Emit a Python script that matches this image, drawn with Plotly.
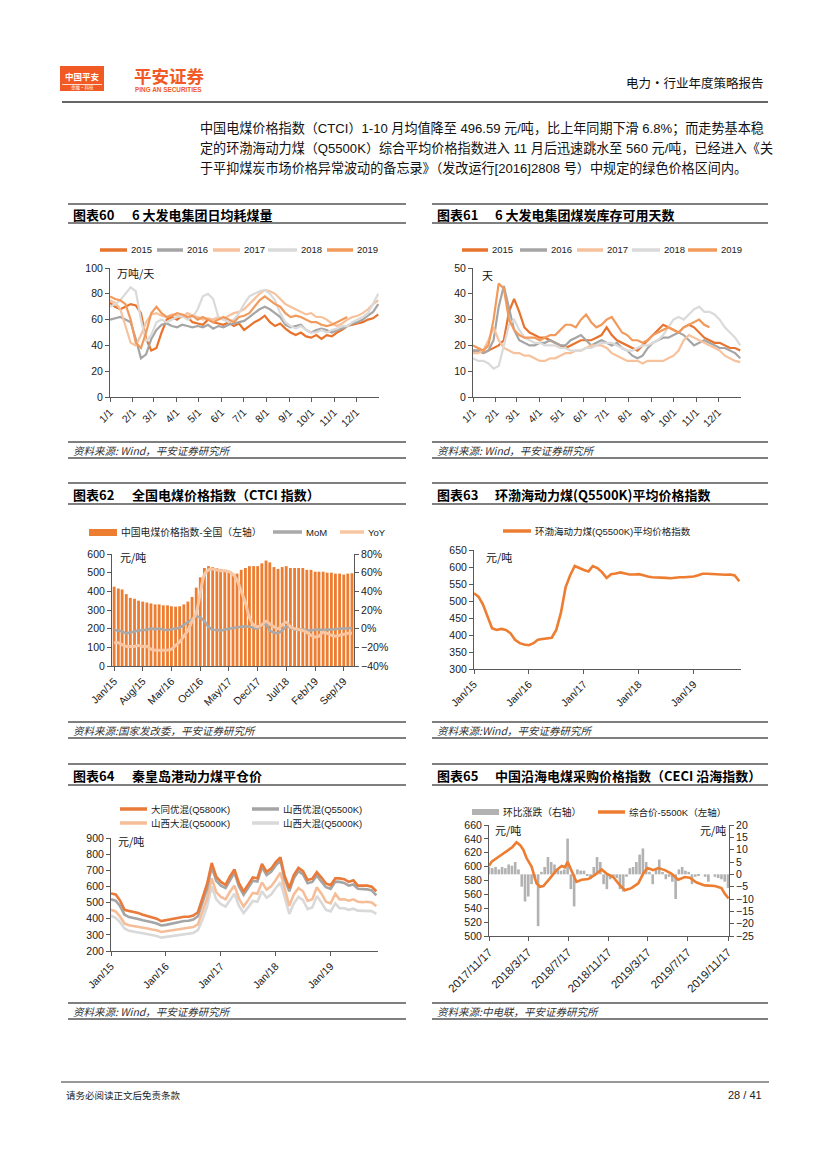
import plotly.graph_objects as go
import pandas as pd

# ======================= DATA =======================
MONTH_LABELS = ["1/1", "2/1", "3/1", "4/1", "5/1", "6/1", "7/1", "8/1", "9/1", "10/1", "11/1", "12/1"]
MONTH_START_DAYS = [0, 31, 59, 90, 120, 151, 181, 212, 243, 273, 304, 334]
WEEK_DAYS = list(range(0, 365, 7))  # day-of-year of weekly readings
YEARS = ["2015", "2016", "2017", "2018", "2019"]

# Chart 60: daily coal consumption of 6 power groups (10k t / day)
COAL_USE_2015 = [73, 70, 68, 70, 72, 71, 65, 45, 36, 38, 50, 60, 62, 60, 63, 62, 58, 57, 56, 60, 58, 57, 56, 58, 55, 57,
                 52, 55, 58, 60, 63, 58, 55, 57, 53, 50, 48, 50, 47, 46, 48, 45, 48, 47, 50, 52, 55, 56, 57, 58, 60, 61, 64]
COAL_USE_2016 = [60, 61, 62, 60, 58, 45, 30, 33, 45, 52, 56, 57, 55, 54, 56, 55, 54, 55, 54, 56, 53, 55, 54, 56, 57, 58,
                 59, 62, 65, 68, 70, 68, 65, 62, 56, 54, 55, 56, 52, 50, 52, 53, 52, 50, 52, 53, 55, 57, 58, 60, 63, 66, 72]
COAL_USE_2017 = [75, 73, 68, 55, 42, 40, 48, 58, 64, 65, 63, 62, 64, 63, 62, 65, 63, 62, 60, 61, 60, 62, 60, 63, 65, 66,
                 68, 72, 76, 80, 83, 82, 80, 76, 72, 70, 68, 66, 64, 65, 62, 62, 60, 57, 55, 57, 60, 62, 63, 65, 68, 72, 75]
COAL_USE_2018 = [70, 72, 75, 80, 85, 82, 60, 43, 48, 58, 60, 58, 60, 62, 63, 60, 62, 68, 78, 80, 76, 62, 60, 58, 60, 65,
                 72, 78, 80, 82, 83, 80, 75, 65, 58, 55, 53, 55, 52, 50, 50, 52, 50, 52, 53, 55, 55, 58, 60, 62, 65, 72, 80]
COAL_USE_2019 = [78, 76, 75, 72, 60, 42, 38, 50, 65, 70, 65, 62, 63, 65, 64, 62, 63, 60, 62, 60, 58, 60, 62, 60, 58, 62,
                 63, 65, 70, 75, 78, 75, 72, 70, 65, 62, 63, 62, 60, 58, 58, 56, 55, 56, 58, 60, 62]

# Chart 61: coal stock available days
STOCK_2015 = [18, 18, 17, 18, 19, 20, 22, 33, 38, 33, 27, 25, 24, 23, 23, 22, 21, 20, 19, 20, 21, 22, 22, 22, 23, 24,
              27, 24, 22, 21, 20, 19, 18, 20, 22, 24, 26, 28, 27, 26, 25, 27, 28, 27, 25, 23, 22, 21, 21, 20, 19, 19, 18]
STOCK_2016 = [18, 18, 17, 18, 22, 35, 43, 35, 26, 22, 21, 20, 20, 21, 21, 22, 21, 20, 20, 22, 23, 24, 22, 20, 21, 22,
              21, 20, 21, 19, 18, 16, 15, 16, 19, 21, 22, 23, 23, 24, 25, 24, 22, 20, 21, 22, 21, 20, 19, 19, 18, 17, 15]
STOCK_2017 = [17, 17, 18, 22, 27, 22, 19, 18, 17, 17, 16, 16, 15, 14, 14, 15, 15, 16, 17, 17, 18, 18, 19, 20, 20, 20,
              19, 17, 16, 15, 14, 14, 14, 13, 14, 14, 14, 14, 15, 16, 18, 22, 24, 23, 22, 21, 20, 19, 18, 16, 15, 14, 13.5]
STOCK_2018 = [15, 14, 14, 13, 11, 12, 20, 28, 30, 26, 23, 22, 21, 21, 20, 20, 20, 19, 19, 18, 18, 18, 19, 19, 20, 21,
              21, 21, 20, 19, 18, 18, 19, 20, 20, 21, 22, 24, 27, 30, 31, 30, 32, 34, 35, 33, 33, 32, 30, 27, 25, 23, 20]
STOCK_2019 = [20, 19, 18, 20, 30, 44, 42, 30, 26, 24, 23, 23, 23, 22, 23, 24, 24, 26, 28, 28, 27, 30, 32, 29, 27, 28,
              30, 31, 28, 25, 24, 22, 22, 21, 22, 24, 25, 26, 27, 26, 25, 27, 28, 29, 30, 28, 27]

# Monthly axis Jan/2015 - Nov/2019
MONTHS = pd.date_range("2015-01-01", periods=59, freq="MS")

# Chart 62: CTCI index (yuan/t), MoM %, YoY %
CTCI = [425, 415, 410, 385, 365, 360, 350, 345, 340, 335, 330, 330,
        325, 325, 320, 318, 320, 330, 345, 370, 420, 475, 525, 535,
        530, 525, 520, 510, 505, 495, 495, 515, 525, 535, 535, 535,
        550, 565, 555, 530, 520, 530, 535, 525, 525, 525, 525, 515,
        515, 505, 505, 505, 500, 500, 495, 495, 490, 495, 497]
CTCI_MOM = [-1.5, -2, -3, -5, -4, -3, -2, -1.5, -1, 0, -0.5, 0,
            -1, -1.5, -0.5, 0, 1, 4, 7, 10, 13, 12, 8, 2,
            -1, -1.5, -2, -1, 0, 0.5, 1.5, 2, 2.5, 2, 1, 0,
            4, 5, -2, -4, -5, -2, 2, 1, -1, -0.5, -1, -1.5,
            -2, -1, -1, -1.5, -1, -1, -0.5, 0, 0, 0.5, 0.5]
CTCI_YOY = [-15, -15, -17, -19, -19, -19, -18, -19, -19, -22, -23, -23,
            -23, -23, -22, -18, -14, -8, -2, 8, 17, 38, 58, 63,
            64, 63, 62, 62, 61, 58, 52, 40, 28, 12, 4, 2,
            4, 8, 5, 2, 0, 4, 7, 2, 0, -1, -2, -4,
            -7, -9, -8, -4, -5, -7, -8, -7, -6, -5, -5]
CTCI_TICKS = ["2015-01-01", "2015-08-01", "2016-03-01", "2016-10-01", "2017-05-01",
              "2017-12-01", "2018-07-01", "2019-02-01", "2019-09-01"]

# Chart 63: Bohai-Rim thermal coal (Q5500K) price index
BOHAI = [523, 512, 490, 455, 420, 415, 418, 415, 405, 386, 376, 372,
         370, 376, 386, 388, 389, 392, 415, 465, 540, 575, 603, 596,
         591, 587, 603, 597, 585, 568, 579, 581, 584, 581, 578, 578,
         579, 576, 572, 570, 570, 570, 568, 567, 569, 570, 570, 570,
         572, 576, 580, 580, 579, 578, 577, 577, 578, 575, 558]
YEAR_TICKS = ["2015-01-01", "2016-01-01", "2017-01-01", "2018-01-01", "2019-01-01"]

# Chart 64: Qinhuangdao FOB prices
QHD_NAMES = ["大同优混(Q5800K)", "山西优混(Q5500K)", "山西大混(Q5000K)", "山西大混(Q5000K)"]
DATONG = [556, 550, 515, 455, 448, 443, 435, 425, 418, 410, 400, 385,
          390, 395, 402, 408, 412, 412, 420, 440, 530, 615, 745, 660,
          628, 610, 660, 705, 620, 568, 610, 655, 650, 740, 690, 710,
          750, 780, 665, 590, 670, 715, 695, 640, 648, 688, 655, 618,
          607, 650, 650, 645, 628, 638, 605, 605, 605, 598, 570]
SX_YOU = [520, 512, 480, 425, 410, 405, 398, 390, 385, 378, 370, 358,
          362, 368, 375, 382, 386, 387, 395, 415, 500, 585, 720, 635,
          605, 590, 635, 685, 600, 548, 590, 635, 630, 720, 670, 690,
          730, 760, 645, 570, 650, 695, 675, 620, 628, 668, 630, 595,
          585, 630, 628, 622, 605, 612, 585, 583, 582, 575, 545]
SX_DA = [455, 445, 415, 370, 360, 356, 350, 345, 340, 333, 328, 318,
         322, 327, 333, 338, 342, 342, 348, 365, 440, 525, 650, 565,
         535, 520, 565, 605, 525, 475, 515, 560, 555, 625, 580, 600,
         640, 685, 590, 480, 550, 590, 570, 510, 520, 595, 555, 505,
         495, 555, 520, 520, 512, 520, 505, 502, 505, 500, 478]
SX_DA2 = [418, 405, 380, 340, 325, 322, 315, 310, 305, 300, 293, 283,
          287, 292, 298, 303, 305, 307, 312, 330, 395, 475, 600, 520,
          490, 475, 515, 555, 480, 435, 470, 510, 505, 570, 530, 550,
          590, 625, 535, 430, 495, 535, 515, 460, 470, 540, 500, 455,
          445, 495, 465, 465, 455, 462, 450, 448, 450, 447, 430]

# Chart 65: CECI coastal index
CECI_DATES = ["2017-11-17", "2017-11-25", "2017-12-10", "2017-12-26", "2018-01-15", "2018-01-27", "2018-02-09",
              "2018-02-20", "2018-03-02", "2018-03-12", "2018-03-27", "2018-04-11", "2018-04-22", "2018-05-02",
              "2018-05-22", "2018-06-11", "2018-06-27", "2018-07-07", "2018-07-15", "2018-07-27", "2018-08-11",
              "2018-08-27", "2018-09-16", "2018-10-06", "2018-10-27", "2018-11-11", "2018-12-01", "2018-12-22",
              "2019-01-06", "2019-01-26", "2019-02-16", "2019-03-03", "2019-03-16", "2019-04-02", "2019-04-18",
              "2019-05-08", "2019-05-28", "2019-06-18", "2019-07-08", "2019-07-23", "2019-08-13", "2019-09-07",
              "2019-10-08", "2019-10-28", "2019-11-07", "2019-11-19"]
CECI_PRICE = [601, 607, 612, 617, 624, 628, 635, 631, 624, 612, 600, 576, 571, 572, 583, 595, 601, 599, 607, 595,
              578, 581, 582, 588, 596, 590, 585, 573, 566, 569, 576, 590, 598, 595, 598, 595, 590, 581, 585, 584,
              577, 573, 572, 569, 561, 554]
CECI_BAR_DATES = pd.date_range("2017-11-17", periods=74, freq="10D")
CECI_CHG = [3, 2.5, 3, 2, 3, 2.5, 4, 3.5, 5, 2, -5, -11, -9, -4, -2, -21, 1, 3, 7, 5,
            4, 2, 1.5, 2, 14.5, -6, -13, 2, 1.5, 1.5, -0.5, -2, 3, 7, 5, -4, -6, -2, -1, -1.5,
            -6, -7, -1, 2.5, 3, 5, 8, 10.5, 5, 1, -4, 2, 6, 1, -2, -1, -3, -10, 2, 3,
            1.5, 1, -4, -1, -0.5, 0, -1, -3, 0, -1, -1.5, -2, -3, -5.5]
CECI_TICKS = ["2017-11-17", "2018-03-17", "2018-07-17", "2018-11-17", "2019-03-17", "2019-07-17", "2019-11-17"]
CECI_TICKTEXT = ["2017/11/17", "2018/3/17", "2018/7/17", "2018/11/17", "2019/3/17", "2019/7/17", "2019/11/17"]

# ======================= STYLE / HELPERS =======================
PAGE_W, PAGE_H = 827, 1169
BODY_MARGIN = 8                      # the html page puts the figure 8px in from the top-left
W, H = PAGE_W - 2 * BODY_MARGIN, PAGE_H - 2 * BODY_MARGIN
LAT = "Liberation Sans, Arial, Noto Sans CJK SC, sans-serif"
CJK = "Noto Sans CJK SC, Liberation Sans, sans-serif"
ORANGE = "#ED7D31"
YEAR_COLORS = ["#E8732D", "#A5A5A5", "#F7C19B", "#DADADA", "#F29A5B"]


def X(p):
    return (p - BODY_MARGIN) / W


def Y(p):
    return 1 - (p - BODY_MARGIN) / H


shapes, annos = [], []


def hline(x0, x1, y, color="#444444", w=1.2):
    shapes.append(dict(type="line", xref="paper", yref="paper", x0=X(x0), x1=X(x1), y0=Y(y), y1=Y(y),
                       line=dict(color=color, width=w)))


def rect(x0, x1, y0, y1, color):
    shapes.append(dict(type="rect", xref="paper", yref="paper", x0=X(x0), x1=X(x1), y0=Y(y1), y1=Y(y0),
                       fillcolor=color, line=dict(width=0)))


def text(x, y, s, size=10, color="#000000", family=LAT, anchor="left"):
    annos.append(dict(xref="paper", yref="paper", x=X(x), y=Y(y), text=s, showarrow=False, xanchor=anchor,
                      yanchor="middle", font=dict(size=size, color=color, family=family)))


def leg_line(x0, x1, y, color, label, w=3.5):
    hline(x0, x1, y, color, w)
    text(x1 + 2, y, label, 9.5, "#222222", LAT)


AX = dict(showline=True, linecolor="#595959", linewidth=1, ticks="outside", ticklen=4, tickwidth=1,
          tickcolor="#595959", showgrid=False, zeroline=False, fixedrange=True, automargin=False,
          tickfont=dict(family=LAT, size=10.5, color="#1a1a1a"))


def xdom(a, b):
    return [X(a), X(b)]


def ydom(top, bottom):
    return [Y(bottom), Y(top)]


fig = go.Figure()

# ---------- Chart 60 ----------
for name, vals, col in zip(YEARS, [COAL_USE_2015, COAL_USE_2016, COAL_USE_2017, COAL_USE_2018, COAL_USE_2019],
                           YEAR_COLORS):
    fig.add_trace(go.Scatter(x=WEEK_DAYS[:len(vals)], y=vals, mode="lines", name=name, xaxis="x", yaxis="y",
                             line=dict(color=col, width=2.2), showlegend=False))
# ---------- Chart 61 ----------
for name, vals, col in zip(YEARS, [STOCK_2015, STOCK_2016, STOCK_2017, STOCK_2018, STOCK_2019], YEAR_COLORS):
    fig.add_trace(go.Scatter(x=WEEK_DAYS[:len(vals)], y=vals, mode="lines", name=name, xaxis="x2", yaxis="y2",
                             line=dict(color=col, width=2.2), showlegend=False))
# ---------- Chart 62 ----------
fig.add_trace(go.Bar(x=MONTHS, y=CTCI, xaxis="x3", yaxis="y3", marker=dict(color=ORANGE, line=dict(width=0)),
                     showlegend=False, name="中国电煤价格指数-全国"))
fig.add_trace(go.Scatter(x=MONTHS, y=CTCI_MOM, xaxis="x3", yaxis="y4", mode="lines", name="MoM",
                         line=dict(color="#A9A9A9", width=2.6, shape="spline"), showlegend=False))
fig.add_trace(go.Scatter(x=MONTHS, y=CTCI_YOY, xaxis="x3", yaxis="y4", mode="lines", name="YoY",
                         line=dict(color="#F8C6A2", width=3, shape="spline"), showlegend=False))
# ---------- Chart 63 ----------
fig.add_trace(go.Scatter(x=MONTHS, y=BOHAI, xaxis="x4", yaxis="y5", mode="lines", name="环渤海",
                         line=dict(color=ORANGE, width=2.6), showlegend=False))
# ---------- Chart 64 ----------
QHD_COLORS = ["#E97A3A", "#A5A5A5", "#F6BE98", "#D9D9D9"]
for name, vals, col in list(zip(QHD_NAMES, [DATONG, SX_YOU, SX_DA, SX_DA2], QHD_COLORS))[::-1]:
    fig.add_trace(go.Scatter(x=MONTHS, y=vals, xaxis="x5", yaxis="y6", mode="lines", name=name,
                             line=dict(color=col, width=2.6), showlegend=False))
# ---------- Chart 65 ----------
fig.add_trace(go.Bar(x=CECI_BAR_DATES, y=CECI_CHG, xaxis="x6", yaxis="y7", width=8 * 86400000,
                     marker=dict(color="#B2B2B2", line=dict(width=0)), showlegend=False, name="环比涨跌"))
fig.add_trace(go.Scatter(x=CECI_DATES, y=CECI_PRICE, xaxis="x6", yaxis="y8", mode="lines", name="综合价-5500K",
                         line=dict(color=ORANGE, width=2.6), showlegend=False))

layout_axes = dict(
    xaxis=dict(AX, domain=xdom(110, 379), anchor="y", range=[0, 365], tickmode="array",
               tickvals=MONTH_START_DAYS, ticktext=MONTH_LABELS, tickangle=-45),
    yaxis=dict(AX, domain=ydom(268, 397), anchor="x", range=[0, 100], tickmode="linear", tick0=0, dtick=20),
    xaxis2=dict(AX, domain=xdom(473, 741), anchor="y2", range=[0, 365], tickmode="array",
                tickvals=MONTH_START_DAYS, ticktext=MONTH_LABELS, tickangle=-45),
    yaxis2=dict(AX, domain=ydom(268, 397), anchor="x2", range=[0, 50], tickmode="linear", tick0=0, dtick=10),
    xaxis3=dict(AX, domain=xdom(112, 354), anchor="y3", type="date", range=["2014-12-16", "2019-11-16"],
                tickmode="array", tickvals=CTCI_TICKS, tickformat="%b/%y", tickangle=-45),
    yaxis3=dict(AX, domain=ydom(554, 666), anchor="x3", range=[0, 600], tickmode="linear", tick0=0, dtick=100),
    yaxis4=dict(AX, anchor="x3", overlaying="y3", side="right", range=[-40, 80], tickmode="linear", tick0=-40,
                dtick=20, ticksuffix="%"),
    xaxis4=dict(AX, domain=xdom(474, 741), anchor="y5", type="date", range=["2015-01-01", "2019-11-12"],
                tickmode="array", tickvals=YEAR_TICKS, tickformat="%b/%y", tickangle=-45),
    yaxis5=dict(AX, domain=ydom(550, 669), anchor="x4", range=[300, 650], tickmode="linear", tick0=300, dtick=50),
    xaxis5=dict(AX, domain=xdom(111, 378), anchor="y6", type="date", range=["2015-01-01", "2019-11-12"],
                tickmode="array", tickvals=YEAR_TICKS, tickformat="%b/%y", tickangle=-45),
    yaxis6=dict(AX, domain=ydom(838, 951), anchor="x5", range=[200, 900], tickmode="linear", tick0=200, dtick=100),
    xaxis6=dict(AX, domain=xdom(489, 729), anchor="y7", type="date", range=["2017-11-17", "2019-11-20"],
                tickmode="array", tickvals=CECI_TICKS, ticktext=CECI_TICKTEXT, tickangle=-45,
                tickfont=dict(family=LAT, size=11.5, color="#1a1a1a")),
    yaxis7=dict(AX, domain=ydom(825, 936), anchor="x6", side="right", range=[-25, 20], tickmode="linear",
                tick0=-25, dtick=5),
    yaxis8=dict(AX, anchor="x6", overlaying="y7", side="left", range=[500, 660], tickmode="linear", tick0=500,
                dtick=20),
)

# ======================= PAGE DECORATION =======================
# header
rect(60, 104, 66, 91, "#F15A24")
hline(62, 102, 84.5, "#FFFFFF", 0.8)
text(82, 76, "<b>中国平安</b>", 8.5, "#FFFFFF", CJK, "center")
text(82, 88, "金融·科技", 4.5, "#FFFFFF", CJK, "center")
text(132, 75, "<b>平安证券</b>", 17.5, "#F15A24", CJK)
text(133, 89.5, "<b>PING AN SECURITIES</b>", 6.4, "#F15A24", LAT)
text(766, 83, "电力·行业年度策略报告", 12.5, "#111111", CJK, "right")
hline(62, 768, 102, "#333333", 1.5)

BODY = ["中国电煤价格指数（CTCI）1-10 月均值降至 496.59 元/吨，比上年同期下滑 6.8%；而走势基本稳",
        "定的环渤海动力煤（Q5500K）综合平均价格指数进入 11 月后迅速跳水至 560 元/吨，已经进入《关",
        "于平抑煤炭市场价格异常波动的备忘录》（发改运行[2016]2808 号）中规定的绿色价格区间内。"]
for i, line in enumerate(BODY):
    text(198, 129 + i * 19.5, line, 13.1, "#111111", LAT)

# section frames: (column, title top, title bottom, source top, source bottom)
COLS = {"L": (68, 406, 71, 130), "R": (432, 768, 435, 493)}
SECTIONS = [
    ("L", 204, 223, 442, 458, "图表60", "6 大发电集团日均耗煤量", "资料来源: Wind，平安证券研究所"),
    ("R", 204, 223, 442, 458, "图表61", "6 大发电集团煤炭库存可用天数", "资料来源: Wind，平安证券研究所"),
    ("L", 483, 504, 722, 738, "图表62", "全国电煤价格指数（CTCI 指数）", "资料来源:国家发改委，平安证券研究所"),
    ("R", 483, 504, 722, 738, "图表63", "环渤海动力煤(Q5500K)平均价格指数", "资料来源:Wind，平安证券研究所"),
    ("L", 764, 785, 1003, 1019, "图表64", "秦皇岛港动力煤平仓价", "资料来源: Wind，平安证券研究所"),
    ("R", 764, 785, 1003, 1019, "图表65", "中国沿海电煤采购价格指数（CECI 沿海指数）", "资料来源:中电联，平安证券研究所"),
]
for col, t0, t1, s0, s1, lab, title, src in SECTIONS:
    x0, x1, tx, tx2 = COLS[col]
    hline(x0, x1, t0, "#555555", 1.3)
    hline(x0, x1, t1, "#555555", 1.3)
    hline(x0, x1, s0, "#555555", 1.3)
    hline(x0, x1, s1, "#555555", 1.3)
    text(tx, (t0 + t1) / 2 + 0.5, "<b>" + lab + "</b>", 13, "#000000", CJK)
    text(tx2, (t0 + t1) / 2 + 0.5, "<b>" + title + "</b>", 13, "#000000", CJK)
    text(tx, (s0 + s1) / 2, "<i>" + src + "</i>", 10.5, "#333333", CJK)

# legends
for (x0, x1), name, col in zip([(100, 127), (157, 183), (213, 240), (268, 297), (327, 353)], YEARS, YEAR_COLORS):
    leg_line(x0, x1, 250, col, name)
for (x0, x1), name, col in zip([(462, 488), (520, 547), (577, 603), (632, 660), (688, 717)], YEARS, YEAR_COLORS):
    leg_line(x0, x1, 250, col, name)
rect(89, 117, 529, 536, ORANGE)
text(119, 532, "中国电煤价格指数-全国（左轴）", 9.8, "#222222", CJK)
leg_line(273, 302, 532, "#A9A9A9", "MoM")
leg_line(340, 364, 532, "#F8C6A2", "YoY")
leg_line(503, 531, 531, ORANGE, "环渤海动力煤(Q5500K)平均价格指数")
leg_line(120, 147, 809, QHD_COLORS[0], QHD_NAMES[0])
leg_line(252, 279, 809, QHD_COLORS[1], QHD_NAMES[1])
leg_line(120, 147, 823, QHD_COLORS[2], QHD_NAMES[2])
leg_line(252, 279, 823, QHD_COLORS[3], QHD_NAMES[3])
rect(472, 499, 809, 815, "#B2B2B2")
text(501, 812, "环比涨跌（右轴）", 9.8, "#222222", CJK)
leg_line(598, 625, 812, ORANGE, "综合价-5500K（左轴）")

# unit labels
text(115, 273, "万吨/天", 11, "#111111", CJK)
text(480, 275, "天", 11, "#111111", CJK)
text(118, 557, "元/吨", 11, "#111111", CJK)
text(484, 557, "元/吨", 11, "#111111", CJK)
text(116, 841, "元/吨", 11, "#111111", CJK)
text(493, 830, "元/吨", 11, "#111111", CJK)
text(728, 830, "元/吨", 11, "#111111", CJK, "right")

# footer
hline(61, 769, 1082, "#333333", 1.2)
text(64, 1095, "请务必阅读正文后免责条款", 9.5, "#222222", CJK)
text(764, 1095, "28 / 41", 11, "#222222", LAT, "right")

fig.update_layout(
    template="none",
    width=W, height=H, margin=dict(l=0, r=0, t=0, b=0, pad=0, autoexpand=False),
    paper_bgcolor="white", plot_bgcolor="white",
    bargap=0.25, showlegend=False, shapes=shapes, annotations=annos, **layout_axes,
    font=dict(family=LAT, size=10, color="#1a1a1a"),
)
fig.write_html("out.html")
